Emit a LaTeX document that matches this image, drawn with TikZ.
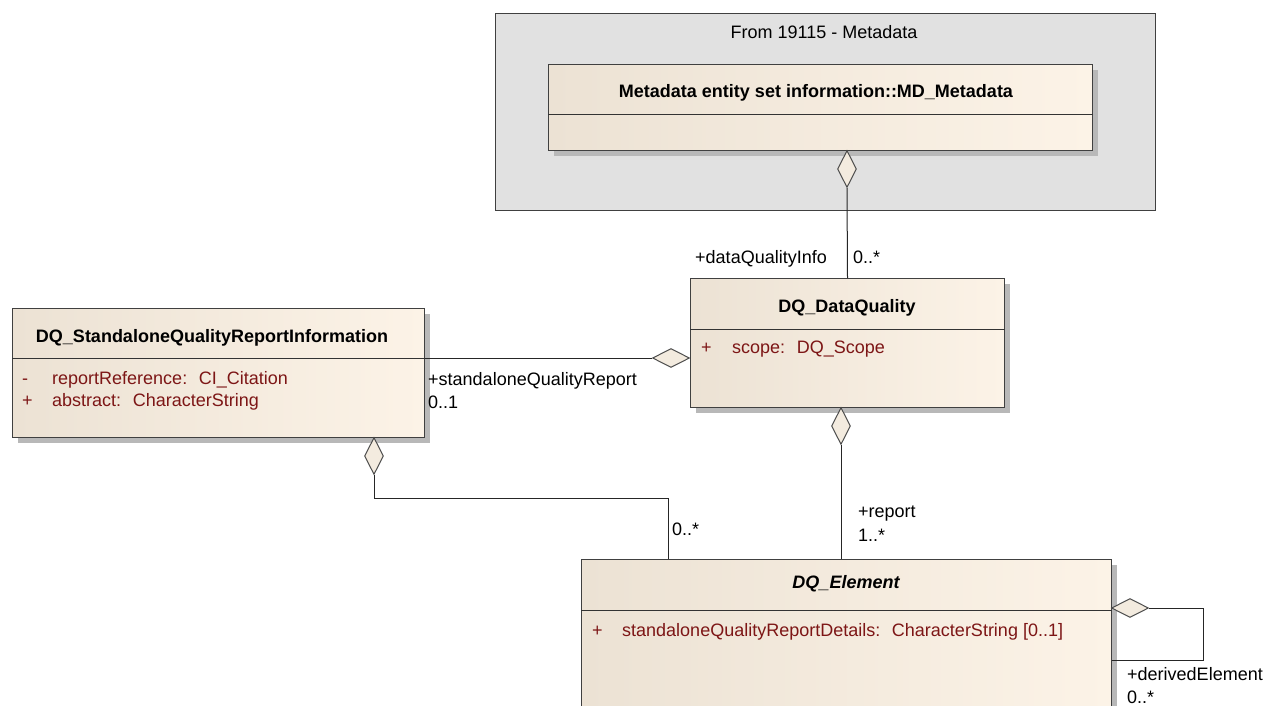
\documentclass[tikz,border=0pt]{standalone}
\usepackage{fontspec}
\setmainfont{Liberation Sans}
\usetikzlibrary{shapes.geometric,shadows}
\definecolor{clsleft}{HTML}{ECE2D4}
\definecolor{clsright}{HTML}{FCF3E7}
\definecolor{pkgfill}{HTML}{E1E1E1}
\definecolor{attrred}{HTML}{7D1616}
\definecolor{dmdfill}{HTML}{F3EBDF}
\newcommand{\umlfont}{\fontsize{18}{21}\selectfont}
\tikzset{
  umlclass/.style={rectangle, draw=black!75, line width=1pt, left color=clsleft, right color=clsright,
    anchor=north west, inner sep=0pt,
    drop shadow={shadow xshift=5pt, shadow yshift=-5pt, fill=black!28, opacity=1}},
  umlpkg/.style={rectangle, draw=black!75, line width=1pt, fill=pkgfill, anchor=north west, inner sep=0pt},
  clsname/.style={font=\umlfont\bfseries, anchor=base, inner sep=0pt},
  attr/.style={text=attrred, anchor=base west, inner sep=0pt},
  role/.style={anchor=base west, inner sep=0pt},
  divider/.style={draw=black!80, line width=1pt},
  assoc/.style={draw=black!85, line width=1pt},
  aggv/.style={diamond, draw=black!70, line width=1pt, fill=dmdfill, inner sep=0pt, minimum width=19pt, minimum height=37pt},
  aggh/.style={diamond, draw=black!70, line width=1pt, fill=dmdfill, inner sep=0pt, minimum width=37pt, minimum height=19pt}
}
\begin{document}
\begin{tikzpicture}[x=1pt, y=-1pt, font=\umlfont]
  \fill[white] (0,0) rectangle (1266,705);
  \useasboundingbox (0,0) rectangle (1266,705);

  \node[umlpkg, minimum width=660pt, minimum height=197pt] (pkg) at (495,13) {};
  \node[anchor=base, inner sep=0pt] (pkgname) at (824,38) {From 19115 - Metadata};

  \node[umlclass, minimum width=544pt, minimum height=86pt] (mdm) at (548,64) {};
  \draw[divider] (mdm.west |- 0,114) -- (mdm.east |- 0,114);
  \node[clsname] (mdmname) at (816,97) {Metadata entity set information::MD\_Metadata};

  \node[umlclass, minimum width=314pt, minimum height=129pt] (dq) at (690,278) {};
  \draw[divider] (dq.west |- 0,329) -- (dq.east |- 0,329);
  \node[clsname] (dqname) at (847,312) {DQ\_DataQuality};
  \node[attr] (dqvis) at (701,353) {+};
  \node[attr] (dqscope) at (732,353) {scope:~ DQ\_Scope};

  \node[umlclass, minimum width=412pt, minimum height=129pt] (sqr) at (12,308) {};
  \draw[divider] (sqr.west |- 0,358) -- (sqr.east |- 0,358);
  \node[clsname] (sqrname) at (212,342) {DQ\_StandaloneQualityReportInformation};
  \node[attr] (sqrvisa) at (22,384) {-};
  \node[attr] (sqrref) at (52,384) {reportReference:~ CI\_Citation};
  \node[attr] (sqrvisb) at (22,406) {+};
  \node[attr] (sqrabs) at (52,406) {abstract:~ CharacterString};

  \node[umlclass, minimum width=530pt, minimum height=170pt] (el) at (581,559) {};
  \draw[divider] (el.west |- 0,610) -- (el.east |- 0,610);
  \node[clsname, font=\umlfont\bfseries\itshape] (elname) at (846,588) {DQ\_Element};
  \node[attr] (elvis) at (592,636) {+};
  \node[attr] (eldet) at (622,636) {standaloneQualityReportDetails:~ CharacterString [0..1]};

  \node[aggv, anchor=north] (dmdinfo) at (847,150) {};
  \draw[assoc] (dmdinfo.south) -- (dq.north);
  \node[role, anchor=base east] (infoname) at (827,263) {+dataQualityInfo};
  \node[role] (infomult) at (853,263) {0..*};

  \node[aggh, anchor=east] (dmdsqr) at (690,358) {};
  \draw[assoc] (dmdsqr.west) -- (sqr.east |- dmdsqr.west);
  \node[role] (sqrrole) at (428,385) {+standaloneQualityReport};
  \node[role] (sqrmult) at (428,408) {0..1};

  \node[aggv, anchor=north] (dmdsqrel) at (374,437) {};
  \coordinate (bend) at (668,498);
  \draw[assoc] (dmdsqrel.south) |- (bend) -- (bend |- el.north);
  \node[role] (sqrelmult) at (672,535) {0..*};

  \node[aggv, anchor=north] (dmdreport) at (841,407) {};
  \draw[assoc] (dmdreport.south) -- (dmdreport.south |- el.north);
  \node[role] (reportname) at (858,517) {+report};
  \node[role] (reportmult) at (858,541) {1..*};

  \node[aggh, anchor=west] (dmdderived) at (1111,608) {};
  \coordinate (loop) at (1203,608);
  \draw[assoc] (dmdderived.east) -- (loop) |- (el.east |- 0,660);
  \node[role] (derivedname) at (1127,680) {+derivedElement};
  \node[role] (derivedmult) at (1127,703) {0..*};
\end{tikzpicture}
\end{document}
